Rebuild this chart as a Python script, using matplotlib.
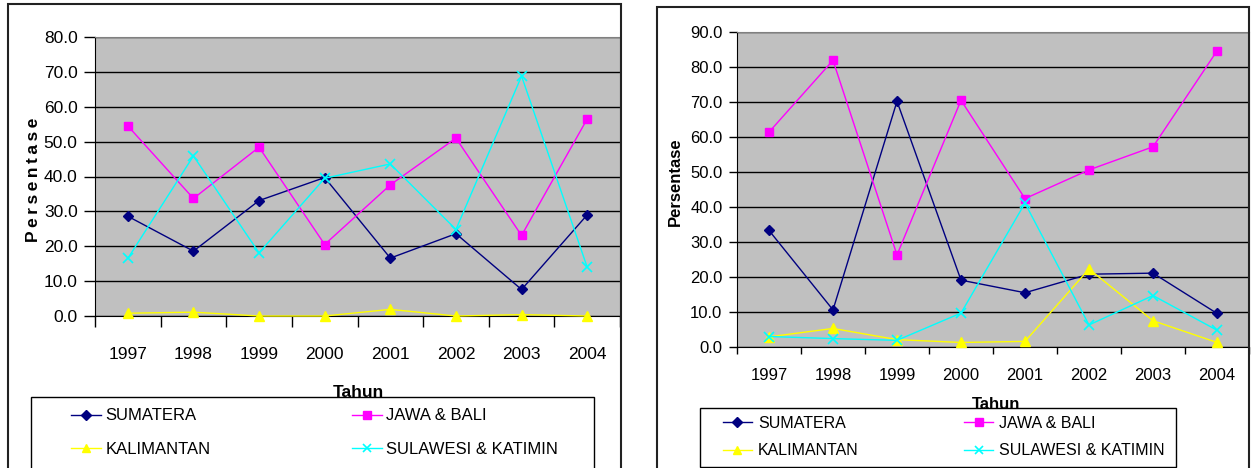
import numpy as np
import matplotlib
matplotlib.use("Agg")
import matplotlib.pyplot as plt
from matplotlib.patches import Rectangle

plt.rcParams['font.family'] = ['Liberation Sans', 'DejaVu Sans']

years = ['1997', '1998', '1999', '2000', '2001', '2002', '2003', '2004']
regions = ['SUMATERA', 'JAWA & BALI', 'KALIMANTAN', 'SULAWESI & KATIMIN']

# left chart
left_sumatera = [28.6, 18.6, 33.1, 39.7, 16.6, 23.6, 7.6, 29.0]
left_jawa = [54.5, 33.7, 48.4, 20.5, 37.6, 51.0, 23.1, 56.5]
left_kalimantan = [0.8, 1.1, 0.0, 0.0, 1.9, 0.0, 0.4, 0.0]
left_sulawesi = [16.5, 45.9, 18.1, 39.5, 43.6, 24.8, 68.8, 14.0]

# right chart
right_sumatera = [33.3, 10.6, 70.2, 19.1, 15.5, 20.8, 21.1, 9.6]
right_jawa = [61.4, 81.9, 26.3, 70.5, 42.4, 50.6, 57.2, 84.6]
right_kalimantan = [2.9, 5.3, 2.1, 1.3, 1.6, 22.3, 7.5, 1.3]
right_sulawesi = [3.0, 2.4, 1.9, 9.7, 41.1, 6.3, 14.7, 4.8]

styles = [
    dict(color='#000080', marker='D', ms=5.5),
    dict(color='#FF00FF', marker='s', ms=6),
    dict(color='#FFFF00', marker='^', ms=7),
    dict(color='#00FFFF', marker='x', ms=7, mew=1.2),
]

W, H = 1253, 468
fig = plt.figure(figsize=(W / 100, H / 100), dpi=100)


def px(x0, y0, x1, y1):
    # pixel box -> figure fraction [left, bottom, width, height]
    return [x0 / W, 1 - y1 / H, (x1 - x0) / W, (y1 - y0) / H]


def draw_chart(rect, series, ymax, xpad, ytick_len, xtick_len, ypad, fs):
    ax = fig.add_axes(rect)
    ax.set_facecolor('#C0C0C0')
    x = np.arange(len(years))
    for vals, st in zip(series, styles):
        ax.plot(x, vals, lw=1, clip_on=False, zorder=3, **st)
    ax.set_xlim(-0.5, len(years) - 0.5)
    ax.set_ylim(0, ymax)
    yt = np.arange(0, ymax + 1, 10)
    ax.set_yticks(yt)
    ax.set_yticklabels(['%.1f' % v for v in yt], fontsize=fs)
    ax.yaxis.grid(True, color='black', lw=1)
    ax.set_axisbelow(True)
    ax.set_xticks(x)
    ax.set_xticklabels(years, fontsize=fs)
    ax.set_xticks(np.arange(-0.5, len(years)), minor=True)
    ax.tick_params(axis='x', which='major', length=0, pad=xpad)
    ax.tick_params(axis='x', which='minor', length=xtick_len, width=1, direction='out')
    ax.tick_params(axis='y', length=ytick_len, width=1, direction='out', pad=ypad)
    for s in ['top', 'right']:
        ax.spines[s].set_color('#808080')
    for s in ['left', 'bottom']:
        ax.spines[s].set_color('black')
    return ax


axL = draw_chart(px(95, 37, 620, 316),
                 [left_sumatera, left_jawa, left_kalimantan, left_sulawesi],
                 80, 22, 8, 8, 4.5, 12.5)
axR = draw_chart(px(737, 32, 1249, 347),
                 [right_sumatera, right_jawa, right_kalimantan, right_sulawesi],
                 90, 15, 6, 5, 4.5, 12)

# y labels
fig.text(33 / W, 1 - 180 / H, 'P\u2009e\u2009r\u2009s\u2009e\u2009n\u2009t\u2009a\u2009s\u2009e',
         rotation=90, ha='center', va='center', fontsize=12.5, fontweight='bold')
fig.text(675 / W, 1 - 182 / H, 'Persentase',
         rotation=90, ha='center', va='center', fontsize=12, fontweight='bold')

# x labels
fig.text(358 / W, 1 - 397 / H, 'Tahun', ha='center', va='baseline',
         fontsize=12.5, fontweight='bold', zorder=1)
fig.text(996 / W, 1 - 409 / H, 'Tahun', ha='center', va='baseline',
         fontsize=12, fontweight='bold', zorder=1)

# outer chart frames
for x0, y0, x1 in [(8, 4, 621), (657, 7, 1249)]:
    fig.patches.append(Rectangle((x0 / W, -0.05), (x1 - x0) / W, 1.05 - y0 / H,
                                 transform=fig.transFigure, fill=False,
                                 ec='#222222', lw=1.5, zorder=0))

# legend boxes
for x0, y0, x1, y1 in [(31, 397, 594, 480), (700, 408, 1176, 467)]:
    fig.patches.append(Rectangle((x0 / W, 1 - y1 / H), (x1 - x0) / W, (y1 - y0) / H,
                                 transform=fig.transFigure, fc='white',
                                 ec='black', lw=1, zorder=4))

# legend order so rows read SUMATERA / JAWA, KALIMANTAN / SULAWESI
order = [0, 2, 1, 3]
hL = axL.get_lines()
legL = fig.legend([hL[i] for i in order], [regions[i] for i in order], ncol=2,
                  loc='center left', bbox_to_anchor=(71 / W, 1 - 432.5 / H),
                  frameon=False, fontsize=12,
                  handlelength=1.8, handletextpad=0.25,
                  columnspacing=8.5, labelspacing=1.1, borderpad=0,
                  borderaxespad=0, markerscale=0.9)
legL.set_zorder(5)
hR = axR.get_lines()
legR = fig.legend([hR[i] for i in order], [regions[i] for i in order], ncol=2,
                  loc='center left', bbox_to_anchor=(723 / W, 1 - 437 / H),
                  frameon=False, fontsize=11.5, handlelength=1.8, handletextpad=0.4,
                  columnspacing=6.6, labelspacing=0.8, borderpad=0,
                  borderaxespad=0, markerscale=0.9)
legR.set_zorder(5)

fig.savefig('out.png', dpi=100)
